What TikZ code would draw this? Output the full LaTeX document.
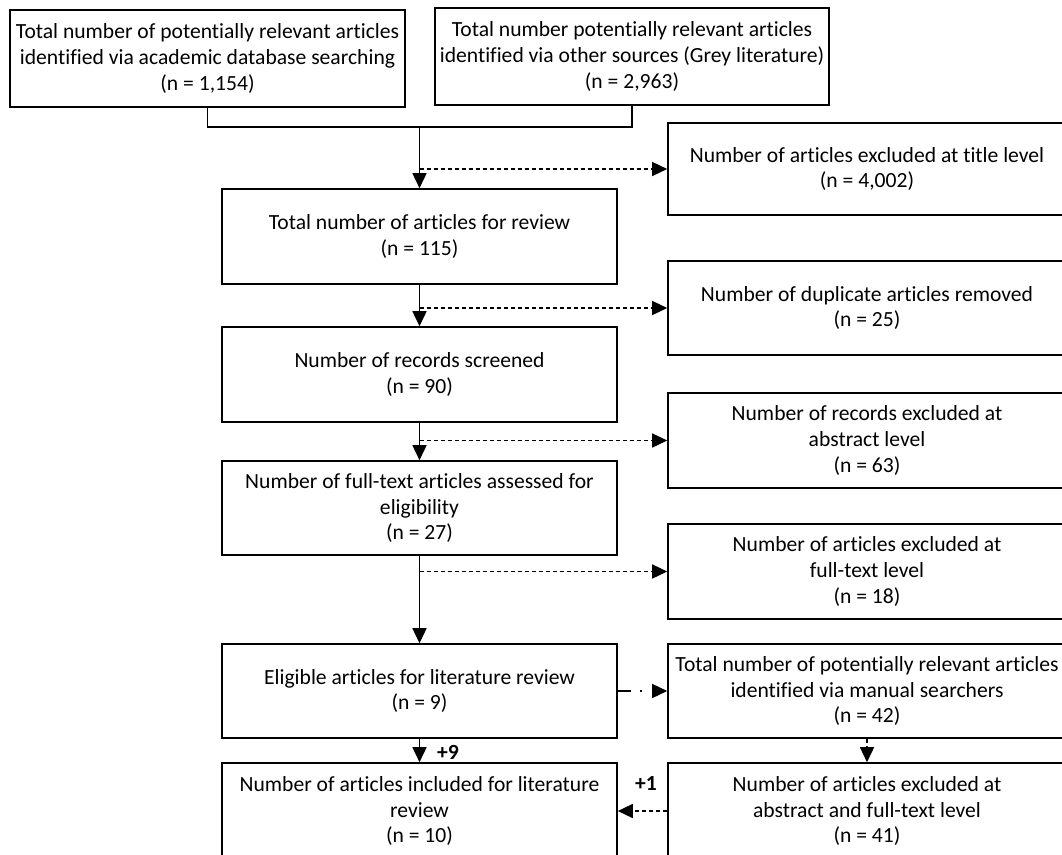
\documentclass[tikz,border=0pt]{standalone}
\usepackage{fontspec}
\setmainfont{Carlito}[Ligatures=NoCommon]
\usetikzlibrary{arrows.meta}
\begin{document}
\begin{tikzpicture}[x=1pt,y=-1pt,
  box/.style={draw=black, line width=1.6pt, rectangle, align=center,
    inner xsep=1pt, inner ysep=0pt, font=\fontsize{21.6}{25.8}\selectfont},
  lbox/.style={box, minimum width=395pt, minimum height=95pt},
  rbox/.style={box, minimum width=398pt, minimum height=95pt},
  tip/.style={-{Triangle[length=15pt,width=14pt]}},
  arr/.style={tip, line width=1.6pt},
  darr/.style={tip, line width=1.5pt, dash pattern=on 4pt off 3pt},
  ddarr/.style={tip, line width=1.5pt, dash pattern=on 13pt off 9pt on 2pt off 30pt},
  lbl/.style={font=\fontsize{21.6}{25.8}\selectfont\bfseries, inner sep=0pt}
]
\useasboundingbox (0,0) rectangle (1062,854);
\clip (0,0) rectangle (1062,854);

\node[box, minimum width=395pt, minimum height=97pt] (A) at (207.5,58.5)
  {Total number of potentially relevant articles\\identified via academic database searching\\(n = 1,154)};
\node[box, minimum width=394pt, minimum height=97pt] (B) at (632,56.5)
  {Total number potentially relevant articles\\identified via other sources (Grey literature)\\(n = 2,963)};

\node[lbox] (C) at (419.5,236.5) {Total number of articles for review\\(n = 115)};
\node[lbox] (F) at (419.5,374.5) {Number of records screened\\(n = 90)};
\node[lbox, minimum height=94pt] (G) at (419.5,508) {Number of full-text articles assessed for\\eligibility\\(n = 27)};
\node[lbox, minimum height=94pt] (J) at (419.5,691) {Eligible articles for literature review\\(n = 9)};
\node[lbox, minimum height=96pt] (L) at (419.5,811) {Number of articles included for literature\\review\\(n = 10)};

\node[rbox, minimum height=92pt] (D) at (867,169) {Number of articles excluded at title level\\(n = 4,002)};
\node[rbox, minimum height=94pt] (E) at (867,308) {Number of duplicate articles removed\\(n = 25)};
\node[rbox] (H) at (867,440.5) {Number of records excluded at\\abstract level\\(n = 63)};
\node[rbox] (I) at (867,571.5) {Number of articles excluded at\\full-text level\\(n = 18)};
\node[rbox, minimum height=94pt] (K) at (867,691) {Total number of potentially relevant articles\\identified via manual searchers\\(n = 42)};
\node[rbox, minimum height=96pt] (M) at (867,811) {Number of articles excluded at\\abstract and full-text level\\(n = 41)};

\draw[line width=1.6pt] (A.south) -- ++(0,19) coordinate (jA) -| (B.south);
\coordinate (j0) at (419.5,126);
\draw[arr] (j0) -- (C.north);
\draw[darr] (C.north |- D.west) -- (D.west);
\draw[arr] (C.south) -- (F.north);
\draw[darr] (C.south |- E.west) -- (E.west);
\draw[arr] (F.south) -- (G.north);
\draw[darr] (F.south |- H.west) -- (H.west);
\draw[arr] (G.south) -- (J.north);
\draw[darr] (G.south |- I.west) -- (I.west);
\draw[ddarr] (J.east) -- (K.west);
\draw[arr] (J.south) -- (L.north);
\node[lbl] (p9) at (448,752) {+9};
\draw[darr] (K.south) -- (M.north);
\draw[darr] (M.west) -- (L.east);
\node[lbl] (p1) at (646,783) {+1};
\end{tikzpicture}
\end{document}
